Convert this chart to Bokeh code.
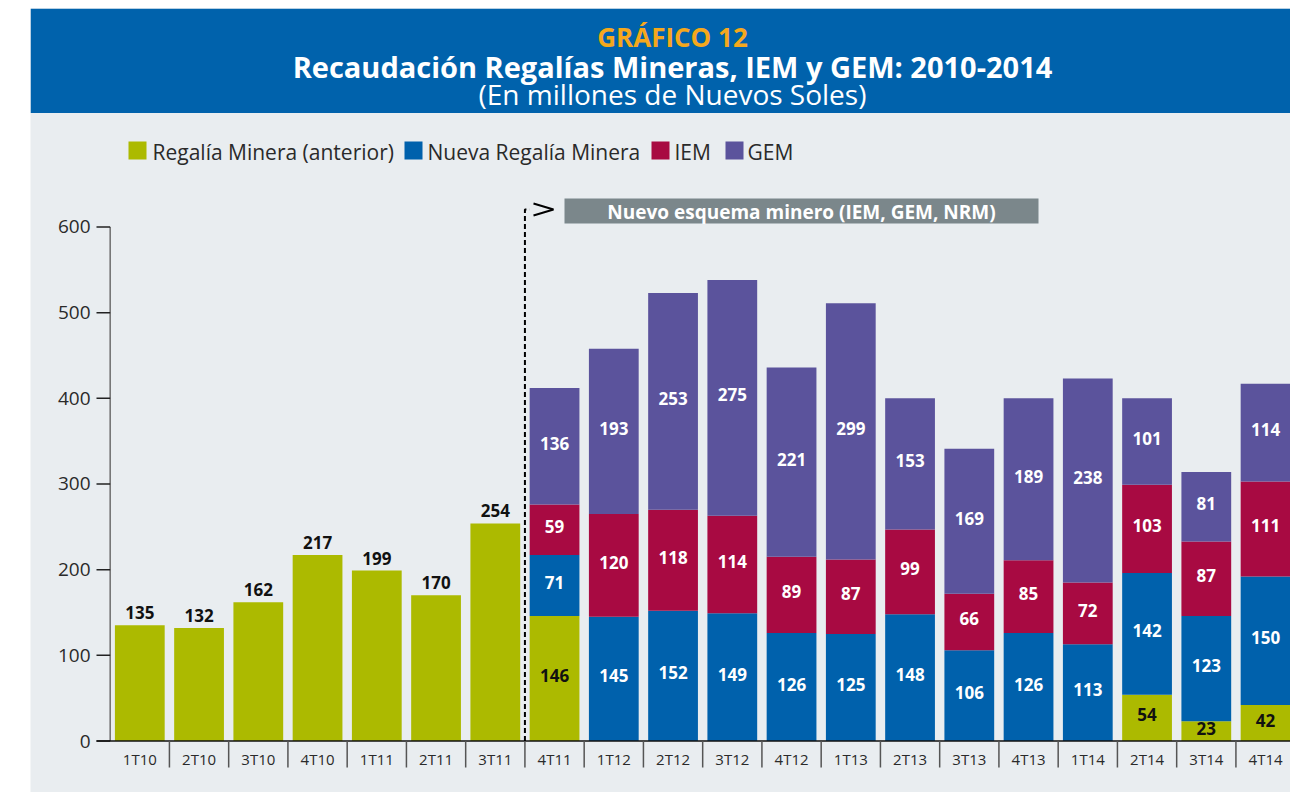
from bokeh.plotting import figure
from bokeh.models import Range1d, ColumnDataSource, BoxAnnotation
from bokeh.core.properties import value
from bokeh.embed import file_html
from bokeh.resources import INLINE

# ---------------- data ----------------
categories = ["1T10", "2T10", "3T10", "4T10", "1T11", "2T11", "3T11", "4T11",
              "1T12", "2T12", "3T12", "4T12", "1T13", "2T13", "3T13", "4T13",
              "1T14", "2T14", "3T14", "4T14"]
regalia_anterior = [135, 132, 162, 217, 199, 170, 254, 146, 0, 0, 0, 0, 0, 0, 0, 0, 0, 54, 23, 42]
nueva_regalia = [0, 0, 0, 0, 0, 0, 0, 71, 145, 152, 149, 126, 125, 148, 106, 126, 113, 142, 123, 150]
iem = [0, 0, 0, 0, 0, 0, 0, 59, 120, 118, 114, 89, 87, 99, 66, 85, 72, 103, 87, 111]
gem = [0, 0, 0, 0, 0, 0, 0, 136, 193, 253, 275, 221, 299, 153, 169, 189, 238, 101, 81, 114]
y_ticks = [0, 100, 200, 300, 400, 500, 600]
series_names = ["Regalía Minera (anterior)", "Nueva Regalía Minera", "IEM", "GEM"]
series_keys = ["anterior", "nrm", "iem", "gem"]
series_colors = ["#acba00", "#0061ac", "#a80a42", "#5b539c"]
label_colors = ["#111111", "#ffffff", "#ffffff", "#ffffff"]

# ---------------- layout helpers (page pixel -> data) ----------------
FRAME_L, FRAME_R, FRAME_T, FRAME_B = 30, 1290, 8, 792
X0_PX, DX = 139.3, 59.25
Y0_PX, PPU = 740.5, 0.8567


def fx(px):
    return (px - X0_PX) / DX


def fy(py):
    return (Y0_PX - py) / PPU


FONT = "Open Sans"
BG = "#e9edf0"

p = figure(width=FRAME_R, height=FRAME_B,
           x_range=Range1d(fx(FRAME_L), fx(FRAME_R)),
           y_range=Range1d(fy(FRAME_B), fy(FRAME_T)),
           x_axis_type=None, y_axis_type=None,
           toolbar_location=None, output_backend="svg",
           min_border_left=FRAME_L, min_border_right=0,
           min_border_top=FRAME_T, min_border_bottom=0)
p.background_fill_color = BG
p.border_fill_color = "white"
p.outline_line_color = None
p.grid.grid_line_color = None

# header band
p.add_layout(BoxAnnotation(bottom=fy(112.5), fill_color="#0062ac", fill_alpha=1.0,
                           line_color=None, level="underlay"))

cx = fx(672)
p.text(x=[cx], y=[fy(36)], text=["GRÁFICO 12"], text_font=value(FONT),
       text_font_style="bold", text_font_size="26px", text_color="#f5a81c",
       text_align="center", text_baseline="middle")
p.text(x=[cx], y=[fy(66)], text=["Recaudación Regalías Mineras, IEM y GEM: 2010-2014"],
       text_font=value(FONT), text_font_style="bold", text_font_size="29px",
       text_color="white", text_align="center", text_baseline="middle")
p.text(x=[cx], y=[fy(93)], text=["(En millones de Nuevos Soles)"],
       text_font=value(FONT), text_font_size="28px",
       text_color="white", text_align="center", text_baseline="middle")

# legend (manual)
leg_sq_px = [137, 413, 660, 734]
leg_tx_px = [152, 427, 674, 747]
p.scatter(x=[fx(v) for v in leg_sq_px], y=[fy(150)] * 4, marker="square", size=18,
          fill_color=series_colors, line_color=None)
p.text(x=[fx(v) for v in leg_tx_px], y=[fy(151)] * 4, text=series_names,
       text_font=value(FONT), text_font_size="21px", text_color="#2a2a2a",
       text_align="left", text_baseline="middle")

# bars
idx = list(range(len(categories)))
src = ColumnDataSource(dict(x=idx, cat=categories, anterior=regalia_anterior,
                            nrm=nueva_regalia, iem=iem, gem=gem))
p.vbar_stack(series_keys, x="x", width=0.84, source=src, color=series_colors,
             line_color=None)

# value labels
lx, ly, lt, lc = [], [], [], []
for i in idx:
    vals = [regalia_anterior[i], nueva_regalia[i], iem[i], gem[i]]
    nonzero = [v for v in vals if v > 0]
    if len(nonzero) == 1:
        lx.append(i)
        ly.append(vals[0] + 14.5)
        lt.append(str(vals[0]))
        lc.append("#111111")
    else:
        base = 0
        for k, v in enumerate(vals):
            if v > 0:
                lx.append(i)
                ly.append(base + v / 2 + 3.5)
                lt.append(str(v))
                lc.append(label_colors[k])
            base += v
p.text(x=lx, y=ly, text=lt, text_color=lc, text_font=value(FONT),
       text_font_style="bold", text_font_size="17px",
       text_align="center", text_baseline="middle")

# y axis (manual)
p.segment(x0=[-0.5], y0=[0], x1=[-0.5], y1=[max(y_ticks)], line_color="#6d6d6d", line_width=1.5)
p.segment(x0=[fx(96)] * len(y_ticks), y0=y_ticks, x1=[-0.5] * len(y_ticks), y1=y_ticks,
          line_color="#222222", line_width=1.5)
p.text(x=[fx(90)] * len(y_ticks), y=y_ticks, text=[str(t) for t in y_ticks],
       text_font=value(FONT), text_font_size="19px", text_color="#2a2a2a",
       text_align="right", text_baseline="middle")

# x axis (manual)
p.segment(x0=[fx(96)], y0=[0], x1=[len(categories) - 0.5], y1=[0],
          line_color="#111111", line_width=1.5)
seps = [i + 0.5 for i in idx[:-1]]
p.segment(x0=seps, y0=[0] * len(seps), x1=seps, y1=[fy(767)] * len(seps),
          line_color="#555555", line_width=1.5)
p.text(x=idx, y=[fy(758)] * len(idx), text=categories, text_font=value(FONT),
       text_font_size="15px", text_color="#2a2a2a", text_align="center",
       text_baseline="middle")

# new scheme marker
p.line(x=[6.5, 6.5, fx(529)], y=[0, fy(209), fy(209)], line_color="black",
       line_width=2, line_dash="5 3")
p.line(x=[fx(533), fx(553), fx(533)], y=[fy(203), fy(209), fy(215)],
       line_color="black", line_width=2)
p.quad(left=[fx(564)], right=[fx(1038)], top=[fy(198)], bottom=[fy(223)],
       fill_color="#7b878b", line_color=None)
p.text(x=[fx(801)], y=[fy(211)], text=["Nuevo esquema minero (IEM, GEM, NRM)"],
       text_font=value(FONT), text_font_style="bold", text_font_size="19px",
       text_color="white", text_align="center", text_baseline="middle")

open("out.html", "w").write(file_html(p, INLINE))
